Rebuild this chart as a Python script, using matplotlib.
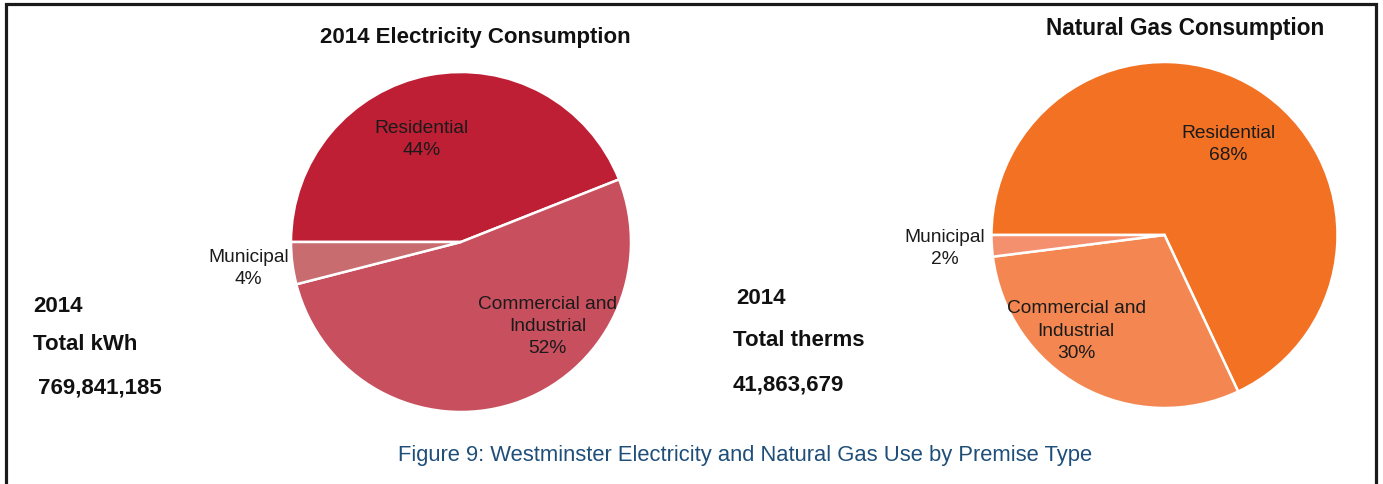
import matplotlib
matplotlib.use("Agg")
import matplotlib.pyplot as plt
from matplotlib.patches import Rectangle
from matplotlib import font_manager

# premise types, drawn clockwise from 9 o'clock
premise_types = ["Residential", "Commercial and\nIndustrial", "Municipal"]
elec_share = [44, 52, 4]
gas_share = [68, 30, 2]

elec_colors = ["#BE1F35", "#C8505E", "#C86C70"]
gas_colors = ["#F37123", "#F48751", "#F5906F"]

elec_total = "769,841,185"
gas_total = "41,863,679"

available = {f.name for f in font_manager.fontManager.ttflist}
if "Liberation Sans Narrow" in available:
    FAMILY = ["Liberation Sans Narrow", "DejaVu Sans"]
else:
    FAMILY = ["Liberation Sans", "DejaVu Sans"]
plt.rcParams["font.family"] = FAMILY

W, H = 1383, 485
fig = plt.figure(figsize=(W / 100, H / 100), dpi=100)


def pie_axes(cx, cy, r):
    # square axes spanning +-1.5 radii around a pixel centre (y from top)
    yb = H - cy
    ax = fig.add_axes([(cx - 1.5 * r) / W, (yb - 1.5 * r) / H,
                       3 * r / W, 3 * r / H])
    ax.axis("off")
    return ax


def draw_pie(ax, shares, colors, label_pos):
    ax.pie(shares, colors=colors, startangle=180, counterclock=False,
           radius=1.0, wedgeprops=dict(edgecolor="white", linewidth=1.8))
    ax.set_xlim(-1.5, 1.5)
    ax.set_ylim(-1.5, 1.5)
    for name, val, (x, y) in zip(premise_types, shares, label_pos):
        ax.text(x, y, "%s\n%d%%" % (name, val), ha="center", va="center",
                fontsize=13.8, color="#1a1a1a", linespacing=1.4)


ax1 = pie_axes(461, 243, 170)
draw_pie(ax1, elec_share, elec_colors,
         [(-0.23, 0.61), (0.51, -0.49), (-1.25, -0.15)])

ax2 = pie_axes(1164.5, 236, 173)
draw_pie(ax2, gas_share, gas_colors,
         [(0.37, 0.53), (-0.51, -0.55), (-1.27, -0.07)])

bold = dict(fontweight="bold", color="#111111")
fig.text(475 / W, 1 - 38 / H, "2014 Electricity Consumption",
         ha="center", va="center", fontsize=16, **bold)
fig.text(1185 / W, 1 - 29 / H, "Natural Gas Consumption",
         ha="center", va="center", fontsize=16.3, **bold)

fig.text(33 / W, 1 - 307 / H, "2014", ha="left", va="center",
         fontsize=16, **bold)
fig.text(33 / W, 1 - 345 / H, "Total kWh", ha="left", va="center",
         fontsize=16, **bold)
fig.text(38 / W, 1 - 388 / H, elec_total, ha="left", va="center",
         fontsize=16, **bold)

fig.text(736 / W, 1 - 298 / H, "2014", ha="left", va="center",
         fontsize=16, **bold)
fig.text(733 / W, 1 - 341 / H, "Total therms", ha="left", va="center",
         fontsize=16, **bold)
fig.text(733 / W, 1 - 385 / H, gas_total, ha="left", va="center",
         fontsize=16, **bold)

fig.text(745 / W, 1 - 456 / H,
         "Figure 9: Westminster Electricity and Natural Gas Use by Premise Type",
         ha="center", va="center", fontsize=15.8, color="#1F4E79")

# frame around the whole figure (bottom edge runs off the canvas)
fig.patches.append(Rectangle((5.5 / W, -0.05), 1370 / W, 1.05 - 4.5 / H,
                             transform=fig.transFigure, fill=False,
                             edgecolor="#1a1a1a", linewidth=2.3))

fig.savefig("out.png", dpi=100, facecolor="white")
